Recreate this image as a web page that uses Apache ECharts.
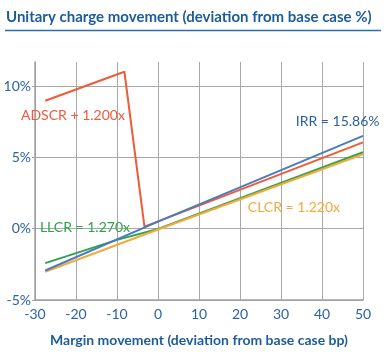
<!DOCTYPE html>
<html>
<head>
<meta charset="utf-8">
<script src="https://cdn.jsdelivr.net/npm/echarts@6/dist/echarts.min.js"></script>
<style>html,body{margin:0;padding:0;background:#fff}#c{width:385px;height:361px}</style>
</head>
<body>
<div id="c"></div>
<script>
var titleText = 'Unitary charge movement (deviation from base case %)';
var xAxisName = 'Margin movement (deviation from base case bp)';
var xTicks = [-30, -20, -10, 0, 10, 20, 30, 40, 50];
var yTicks = [-5, 0, 5, 10];

var adscr = [[-27.5, 8.98], [-8.2, 11.02], [-3.3, 0.15], [50, 6.06]];
var irr   = [[-27.5, -2.93], [0, 0.5], [50, 6.52]];
var llcr  = [[-27.5, -2.41], [-10, -0.78], [0, -0.02], [50, 5.37]];
var clcr  = [[-27.5, -3.02], [0, -0.05], [50, 5.23]];

var labels = {
  adscr: {text: 'ADSCR + 1.200x', at: [-30, 7.98], offset: [-14, 0]},
  irr:   {text: 'IRR = 15.86%',   at: [33.6, 7.5], offset: [0, 0]},
  llcr:  {text: 'LLCR = 1.270x',  at: [-28.8, 0.1], offset: [0, 0]},
  clcr:  {text: 'CLCR = 1.220x',  at: [21.9, 1.5], offset: [0, 0]}
};

var FONT = 'Lato, "Open Sans", sans-serif';
var chart = echarts.init(document.getElementById('c'), null, {renderer: 'canvas'});

function ser(name, data, color, lbl, lblColor) {
  return {
    name: name, type: 'line', data: data, symbol: 'none', smooth: false,
    lineStyle: {color: color, width: 2}, z: 3,
    markPoint: {
      silent: true, symbol: 'circle', symbolSize: 0,
      data: [{coord: lbl.at}],
      label: {show: true, position: 'right', distance: 0, offset: lbl.offset, formatter: lbl.text,
        color: lblColor, fontFamily: FONT, fontSize: 14, align: 'left', verticalAlign: 'middle'}
    }
  };
}

chart.setOption({
  animation: false,
  grid: {left: 35, right: 22, top: 62, bottom: 61, containLabel: false},
  graphic: [
    {type: 'text', left: 6, top: 10, style: {text: titleText, fill: '#1d5c9c', font: 'bold 15px ' + FONT}},
    {type: 'line', shape: {x1: 5, y1: 30.5, x2: 381, y2: 30.5}, style: {stroke: '#2b6cab', lineWidth: 1.5}}
  ],
  xAxis: {
    type: 'value', min: xTicks[0], max: xTicks[xTicks.length - 1], interval: 10,
    name: xAxisName, nameLocation: 'middle', nameGap: 33,
    nameTextStyle: {color: '#1d5c9c', fontFamily: FONT, fontWeight: 'bold', fontSize: 14},
    axisLine: {show: true, onZero: false, lineStyle: {color: '#a0a0a0', width: 1.5}},
    axisTick: {show: false},
    axisLabel: {color: '#2a63a6', fontFamily: FONT, fontSize: 14, margin: 7},
    splitLine: {show: true, lineStyle: {color: '#a8a8a8', width: 1}}
  },
  yAxis: {
    type: 'value', min: yTicks[0], max: 11.7, interval: 5,
    axisLine: {show: true, onZero: false, lineStyle: {color: '#a0a0a0', width: 1.5}},
    axisTick: {show: true, length: 3, lineStyle: {color: '#a0a0a0'}},
    axisLabel: {color: '#2a63a6', fontFamily: FONT, fontSize: 14, margin: 4, showMaxLabel: false,
      formatter: function (v) { return yTicks.indexOf(v) >= 0 ? v + '%' : ''; }},
    splitLine: {show: true, showMaxLine: false, lineStyle: {color: '#a8a8a8', width: 1}}
  },
  series: [
    ser('LLCR', llcr, '#2ea34e', labels.llcr, '#2ea34e'),
    ser('CLCR', clcr, '#f5a93a', labels.clcr, '#f5a93a'),
    ser('ADSCR', adscr, '#ee5a3a', labels.adscr, '#ee5a3a'),
    ser('IRR', irr, '#4a7bbf', labels.irr, '#2a5fa0')
  ]
});
</script>
</body>
</html>
